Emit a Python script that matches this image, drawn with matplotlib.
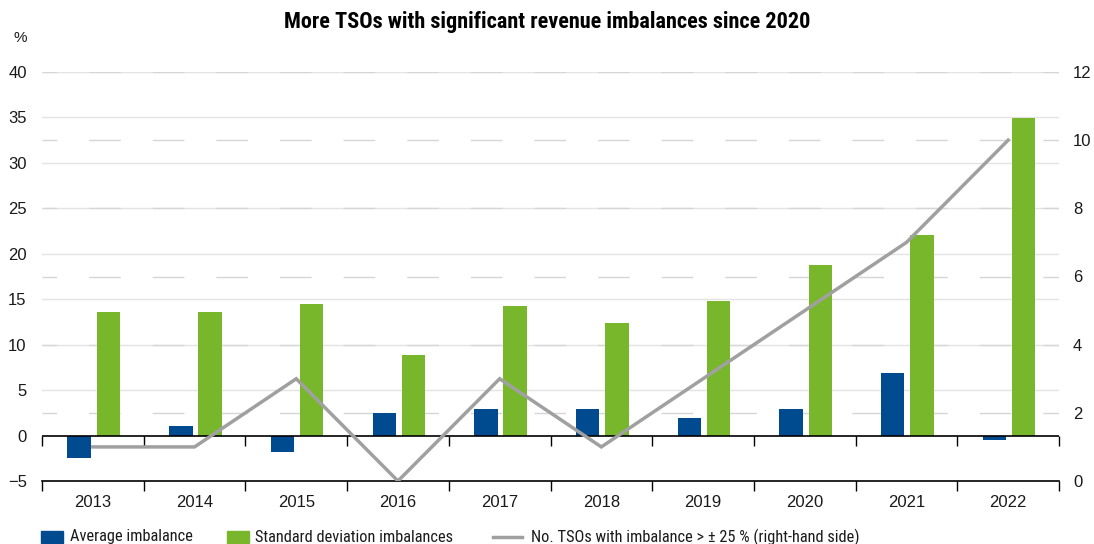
import matplotlib
matplotlib.use("Agg")
import matplotlib.pyplot as plt
import matplotlib.transforms as mtransforms
from matplotlib import font_manager
from matplotlib.font_manager import FontProperties
from matplotlib.patches import Rectangle
from matplotlib.lines import Line2D
import numpy as np

# ---- data ----
years = ["2013", "2014", "2015", "2016", "2017", "2018", "2019", "2020", "2021", "2022"]
avg_imbalance = [-2.5, 1.0, -1.8, 2.5, 2.9, 2.9, 1.9, 2.9, 6.9, -0.5]
std_imbalance = [13.6, 13.6, 14.5, 8.9, 14.3, 12.4, 14.8, 18.8, 22.1, 34.9]
n_tsos = [1, 1, 3, 0, 3, 1, 3, 5, 7, 10]

left_ticks = [-5, 0, 5, 10, 15, 20, 25, 30, 35, 40]
right_ticks = [0, 2, 4, 6, 8, 10, 12]

title = "More TSOs with significant revenue imbalances since 2020"
legend_labels = ["Average imbalance", "Standard deviation imbalances",
                 "No. TSOs with imbalance > \u00b1 25 % (right-hand side)"]

# ---- styling ----
BLUE = "#004a8f"
GREEN = "#78b72b"
GREY = "#a0a0a0"
GRID = "#e3e3e3"
TEXT = "#1a1a1a"

installed = {f.name for f in font_manager.fontManager.ttflist}
base_font = "Liberation Sans" if "Liberation Sans" in installed else "DejaVu Sans"
plt.rcParams["font.family"] = [base_font, "DejaVu Sans"]
plt.rcParams["lines.scale_dashes"] = False


def narrow_face(bold):
    """Pick a narrow face if one is installed."""
    suffix = "Bold" if bold else "Regular"
    wanted = ["LiberationSansNarrow-" + suffix, "RobotoCondensed-" + suffix,
              "DejaVuSansCondensed" + ("-Bold" if bold else "."),
              "OpenSans_Condensed-" + suffix, "OpenSansCondensed-" + suffix]
    files = [f.fname for f in font_manager.fontManager.ttflist]
    for w in wanted:
        for fn in files:
            if fn.split("/")[-1].startswith(w):
                return FontProperties(fname=fn), True
    return FontProperties(family=base_font, weight="bold" if bold else "normal"), False


title_fp, narrow = narrow_face(True)
legend_fp, legend_narrow = narrow_face(False)

fig = plt.figure(figsize=(10.94, 5.44), dpi=100)
ax = fig.add_axes([42 / 1094, 1 - 481 / 544, (1059 - 42) / 1094, (481 - 72) / 544])
ax2 = ax.twinx()

x = np.arange(len(years))
bar_w = 0.23
ax.bar(x - 0.135, avg_imbalance, width=bar_w, color=BLUE, zorder=3)
ax.bar(x + 0.152, std_imbalance, width=bar_w, color=GREEN, zorder=3)

ax.set_xlim(-0.5, len(years) - 0.5)
ax.set_ylim(left_ticks[0], left_ticks[-1])
ax2.set_ylim(right_ticks[0], right_ticks[-1])

# left-hand grid (solid)
ax.set_yticks(left_ticks)
ax.set_yticklabels([("\u2212" + str(-t)) if t < 0 else str(t) for t in left_ticks])
for t in left_ticks[2:]:
    ax.axhline(t, color=GRID, lw=1.0, zorder=1)

# right-hand grid (dashed, behind the bars)
blend = mtransforms.blended_transform_factory(ax.transAxes, ax2.transData)
for t in right_ticks[1:]:
    ax.add_line(Line2D([0, 1], [t, t], transform=blend, color="#d6d6d6", lw=1.0,
                       linestyle=(12.2, (22.8, 23.0)), zorder=1.5))

# zero line with boundary ticks
ax.axhline(0, color="black", lw=1.2, zorder=4)
zero_pos = (0 - left_ticks[0]) / (left_ticks[-1] - left_ticks[0])
sec = ax.secondary_xaxis(zero_pos)
sec.set_xticks(np.arange(-0.5, len(years), 1.0))
sec.tick_params(axis="x", direction="out", length=7, width=1.0, labelbottom=False,
                labeltop=False, bottom=True, top=False)
sec.spines["bottom"].set_visible(False)
sec.spines["top"].set_visible(False)

# count of TSOs on right axis
ax2.plot(x, n_tsos, color=GREY, lw=2.5, zorder=5, solid_joinstyle="miter")

# axes decoration
for a in (ax, ax2):
    for s in ("top", "left", "right"):
        a.spines[s].set_visible(False)
ax2.spines["bottom"].set_visible(False)
ax.spines["bottom"].set_linewidth(1.2)

TICK_FS = 12
ax.set_xticks(x)
ax.set_xticklabels(years)
ax.set_xticks(np.arange(-0.5, len(years), 1.0), minor=True)
ax.tick_params(axis="x", which="major", length=0, pad=10, labelsize=TICK_FS, labelcolor=TEXT)
ax.tick_params(axis="x", which="minor", length=7, width=1.0, direction="out")
ax.tick_params(axis="y", length=0, pad=11, labelsize=TICK_FS, labelcolor=TEXT)

ax2.set_yticks(right_ticks)
ax2.tick_params(axis="y", length=0, pad=10, labelsize=TICK_FS, labelcolor=TEXT)

# title and unit
title_fp.set_size(16.0 if narrow else 13.8)
fig.text(0.5, 1 - 22 / 544, title, ha="center", va="center", fontproperties=title_fp,
         fontweight="bold", color="black")
fig.text(20 / 1094, 1 - 38 / 544, "%", ha="center", va="center", fontsize=11, color=TEXT)

# legend row
def fx(px):
    return px / 1094


def fy(py):
    return 1 - py / 544


leg_y = 537
legend_fp.set_size(11.8 if legend_narrow else 10.3)
fig.add_artist(Rectangle((fx(41), fy(leg_y + 6)), fx(63) - fx(41), 12 / 544,
                         transform=fig.transFigure, color=BLUE))
fig.text(fx(70), fy(leg_y), legend_labels[0], ha="left", va="center",
         fontproperties=legend_fp, color=TEXT)
fig.add_artist(Rectangle((fx(227), fy(leg_y + 6)), fx(249) - fx(227), 12 / 544,
                         transform=fig.transFigure, color=GREEN))
fig.text(fx(255), fy(leg_y), legend_labels[1], ha="left", va="center",
         fontproperties=legend_fp, color=TEXT)
fig.add_artist(Line2D([fx(493), fx(522)], [fy(leg_y), fy(leg_y)], transform=fig.transFigure,
                      color=GREY, lw=2.5))
fig.text(fx(531), fy(leg_y), legend_labels[2], ha="left", va="center",
         fontproperties=legend_fp, color=TEXT)

fig.savefig("out.png", dpi=100)
